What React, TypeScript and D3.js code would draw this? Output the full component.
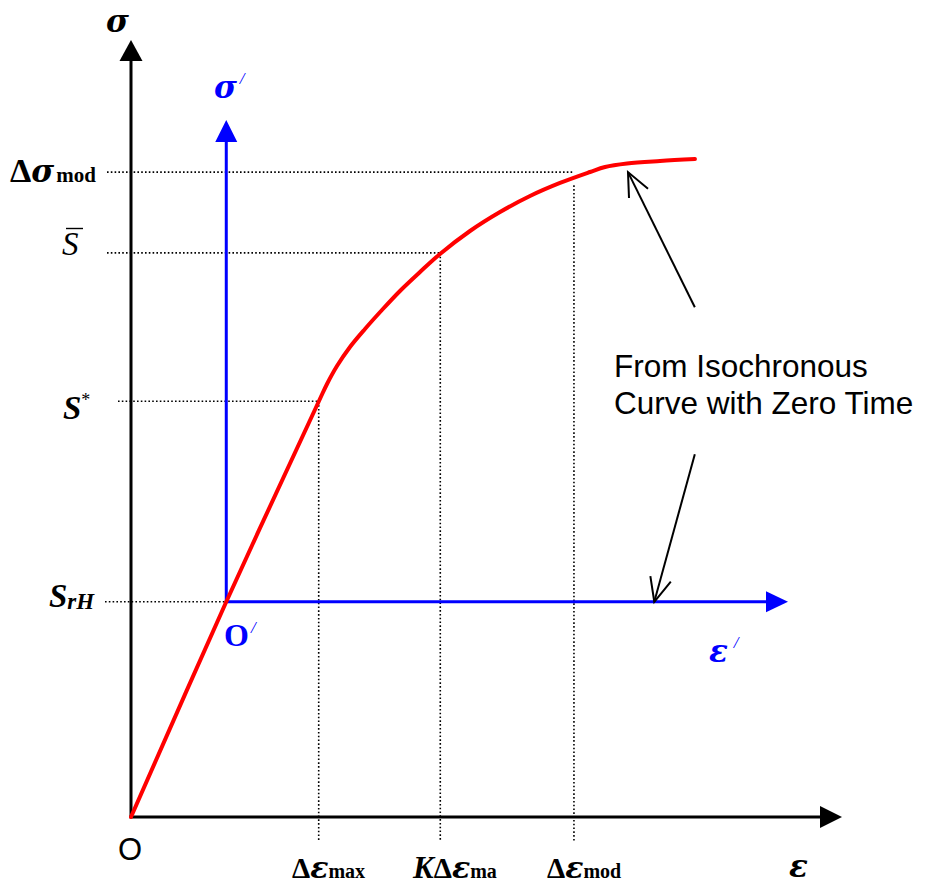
import React from 'react';
import * as d3 from 'd3';

const W = 926;
const H = 887;

// Normalised strain / stress units (0–100 along each main axis)
const strainDomain = [0, 100];
const stressDomain = [0, 100];

// Zero-time isochronous stress–strain curve
const curveStrain = [0, 13.4, 26.44, 27.57, 28.97, 30.8, 32.91, 35.3, 37.83, 40.65, 43.46, 47.68, 51.9, 56.12, 60.34, 64.56, 66.67, 69.76, 74.4, 79.32];
const curveStress = [0, 27.7, 53.54, 55.73, 58.04, 60.49, 62.81, 65.25, 67.7, 70.14, 72.46, 75.42, 77.86, 79.92, 81.6, 83.01, 83.66, 84.11, 84.43, 84.68];

// Shifted origin O' (strain, stress)
const shiftedOrigin = [13.4, 27.7];

// Stress levels (horizontal guides) and the strain where each guide stops
const stressLevels = [83.0, 72.6, 53.5, 27.7];
const stressGuideEnd = [62.3, 43.5, 26.4, 13.4];

// Strain levels (vertical guides) and the stress where each guide starts
const strainLevels = [26.4, 43.5, 62.3];
const strainGuideTop = [53.5, 72.6, 81.3];

// Annotation arrows: [fromStrain, fromStress, toStrain, toStress]
const noteArrows = [
  [79.3, 65.6, 69.9, 83.0],
  [79.3, 46.7, 73.6, 27.7],
];
const noteLines = ['From Isochronous', 'Curve with Zero Time'];

const SERIF = '"Liberation Serif", "Times New Roman", serif';
const GREEK = '"DejaVu Serif", "Liberation Serif", serif';
const SANS = '"Liberation Sans", Arial, sans-serif';
const BLUE = '#0000ff';
const RED = '#ff0000';

export default function App() {
  const x = d3.scaleLinear().domain(strainDomain).range([131, 842]);
  const y = d3.scaleLinear().domain(stressDomain).range([817, 40]);

  const pts: [number, number][] = curveStrain.map((e, i) => [e, curveStress[i]]);
  const line = d3
    .line<[number, number]>()
    .x((d) => x(d[0]))
    .y((d) => y(d[1]))
    .curve(d3.curveCatmullRom.alpha(0.5));

  const ox = x(shiftedOrigin[0]);
  const oy = y(shiftedOrigin[1]);

  const guideStartX = [107, 107, 118, 105];
  const guideBottom = 842;

  const arrowHead = (tx: number, ty: number, fx: number, fy: number, len = 26, spread = 0.42) => {
    const a = Math.atan2(fy - ty, fx - tx);
    const p1 = [tx + len * Math.cos(a - spread), ty + len * Math.sin(a - spread)];
    const p2 = [tx + len * Math.cos(a + spread), ty + len * Math.sin(a + spread)];
    return `M${p1[0]},${p1[1]}L${tx},${ty}L${p2[0]},${p2[1]}`;
  };

  const greek = { fontFamily: GREEK, fontWeight: 'bold', fontStyle: 'italic' } as const;

  return (
    <svg
      width={W}
      height={H}
      viewBox={`0 0 ${W} ${H}`}
      style={{ position: 'absolute', left: 0, top: 0, background: '#fff' }}
    >
      {/* dotted guides */}
      <g stroke="#000" strokeWidth={1.6} strokeDasharray="1.6,2.2" fill="none">
        {stressLevels.map((s, i) => (
          <line key={'h' + i} x1={guideStartX[i]} x2={x(stressGuideEnd[i])} y1={y(s)} y2={y(s)} />
        ))}
        {strainLevels.map((e, i) => (
          <line key={'v' + i} x1={x(e)} x2={x(e)} y1={y(strainGuideTop[i])} y2={guideBottom} />
        ))}
      </g>

      {/* main axes */}
      <g fill="#000" stroke="#000">
        <line x1={x(0)} y1={y(0)} x2={x(0)} y2={y(100) + 20} strokeWidth={3} />
        <path d={`M${x(0)},${y(100)}L${x(0) - 11.5},${y(100) + 21}L${x(0) + 11.5},${y(100) + 21}Z`} stroke="none" />
        <line x1={x(0) - 1.5} y1={y(0)} x2={x(100) - 20} y2={y(0)} strokeWidth={3} />
        <path d={`M${x(100)},${y(0)}L${x(100) - 22},${y(0) - 11}L${x(100) - 22},${y(0) + 11}Z`} stroke="none" />
      </g>

      {/* shifted axes */}
      <g fill={BLUE} stroke={BLUE}>
        <line x1={ox} y1={oy} x2={ox} y2={141} strokeWidth={3} />
        <path d={`M${ox},120L${ox - 11},142L${ox + 11},142Z`} stroke="none" />
        <line x1={ox} y1={oy} x2={768} y2={oy} strokeWidth={3} />
        <path d={`M788,${oy}L766,${oy - 10.5}L766,${oy + 10.5}Z`} stroke="none" />
      </g>

      {/* curve */}
      <path d={line(pts) || ''} fill="none" stroke={RED} strokeWidth={4} strokeLinejoin="round" strokeLinecap="round" />

      {/* annotation arrows */}
      <g stroke="#000" strokeWidth={2} fill="none">
        {noteArrows.map((a, i) => {
          const fx = x(a[0]), fy = y(a[1]), tx = x(a[2]), ty = y(a[3]);
          return (
            <g key={i}>
              <line x1={fx} y1={fy} x2={tx} y2={ty} />
              <path d={arrowHead(tx, ty, fx, fy)} />
            </g>
          );
        })}
      </g>
      <g fontFamily={SANS} fontSize={31.5} fill="#000">
        {noteLines.map((t, i) => (
          <text key={i} x={614} y={377 + i * 37}>{t}</text>
        ))}
      </g>

      {/* axis titles */}
      <text x={106} y={32} fontSize={31} {...greek}>σ</text>
      <text x={214} y={98} fontSize={31} {...greek} fill={BLUE}>
        σ<tspan fontFamily={SERIF} fontSize={17} fontWeight="normal" dx={3} dy={-14}>/</tspan>
      </text>
      <text x={789} y={877} fontSize={31} {...greek}>ε</text>
      <text x={709} y={662} fontSize={31} {...greek} fill={BLUE}>
        ε<tspan fontFamily={SERIF} fontSize={17} fontWeight="normal" dx={6} dy={-14}>/</tspan>
      </text>
      <text x={118} y={860} fontFamily={SANS} fontSize={31}>O</text>
      <text x={224} y={646} fontFamily={SERIF} fontSize={32} fontWeight="bold" fill={BLUE}>
        O<tspan fontSize={17} fontWeight="normal" fontStyle="italic" dx={2} dy={-13}>/</tspan>
      </text>

      {/* stress level labels */}
      <text x={10} y={182} fontFamily={SERIF} fontWeight="bold">
        <tspan fontSize={34}>Δ</tspan>
        <tspan fontSize={31} {...greek}>σ</tspan>
        <tspan fontSize={21} dx={2}>mod</tspan>
      </text>
      <text x={62} y={255} fontFamily={SERIF} fontSize={33} fontStyle="italic">S</text>
      <line x1={66} x2={83} y1={228.5} y2={228.5} stroke="#000" strokeWidth={1.4} />
      <text x={63} y={419} fontFamily={SERIF} fontWeight="bold" fontStyle="italic">
        <tspan fontSize={33}>S</tspan>
        <tspan fontSize={18} fontStyle="normal" fontWeight="normal" dy={-13}>*</tspan>
      </text>
      <text x={49} y={607} fontFamily={SERIF} fontWeight="bold" fontStyle="italic">
        <tspan fontSize={33}>S</tspan>
        <tspan fontSize={23} dy={2}>rH</tspan>
      </text>

      {/* strain level labels */}
      <text x={292} y={878} fontFamily={SERIF} fontWeight="bold">
        <tspan fontSize={29}>Δ</tspan>
        <tspan fontSize={30} {...greek}>ε</tspan>
        <tspan fontSize={20}>max</tspan>
      </text>
      <text x={413} y={878} fontFamily={SERIF} fontWeight="bold">
        <tspan fontSize={31} fontStyle="italic">K</tspan>
        <tspan fontSize={29}>Δ</tspan>
        <tspan fontSize={30} {...greek}>ε</tspan>
        <tspan fontSize={20}>ma</tspan>
      </text>
      <text x={547} y={878} fontFamily={SERIF} fontWeight="bold">
        <tspan fontSize={29}>Δ</tspan>
        <tspan fontSize={30} {...greek}>ε</tspan>
        <tspan fontSize={20}>mod</tspan>
      </text>
    </svg>
  );
}
